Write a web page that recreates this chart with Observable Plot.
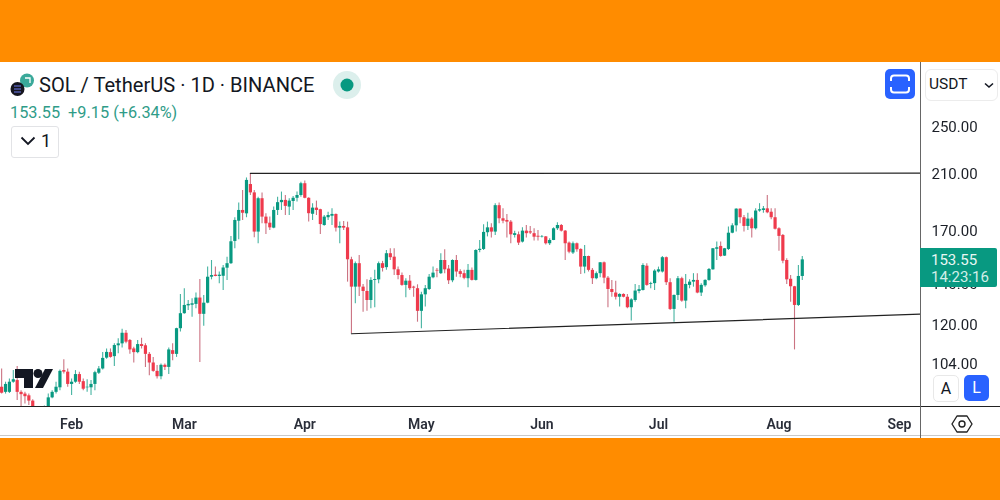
<!DOCTYPE html>
<html><head><meta charset="utf-8">
<script src="https://cdn.jsdelivr.net/npm/d3@7"></script>
<script src="https://cdn.jsdelivr.net/npm/@observablehq/plot@0.6"></script>
<style>
html,body{margin:0;padding:0;background:#fff;overflow:hidden}
body{width:1000px;height:500px;position:relative;font-family:Roboto,sans-serif;color:#131722}
.band{position:absolute;left:0;width:1000px;height:62px;background:#ff8c00;z-index:5}
#chart{position:absolute;left:0;top:62px;width:1000px;height:376px;filter:blur(0.3px)}
.o{position:absolute;white-space:nowrap}
</style></head><body>
<div class="band" style="top:0"></div>
<div class="band" style="top:438px"></div>
<div id="chart"></div>
<div class="o" style="left:0;top:406px;width:1000px;height:1px;background:#222"></div>
<div class="o" style="left:0;top:435px;width:1000px;height:1px;background:#c9c9c9"></div>
<div class="o" style="left:919.5px;top:62px;width:1.5px;height:376px;background:#666"></div>

<svg class="o" style="left:8px;top:72px" width="30" height="26" viewBox="0 0 30 26"><circle cx="19" cy="8.5" r="7" fill="#3aa99a"/><path d="M17 6H22V11" fill="none" stroke="#fff" stroke-width="1.3"/><circle cx="9.5" cy="17" r="7" fill="#15151f"/><path d="M6 14h7M6 17h7M6 20h7" stroke="#6f7cf0" stroke-width="1.2"/></svg>
<div class="o" style="left:39px;top:73px;font-size:20.1px;line-height:24px">SOL / TetherUS · 1D · BINANCE</div>
<svg class="o" style="left:333px;top:71px" width="28" height="28"><circle cx="14" cy="14" r="14" fill="#dcefec"/><circle cx="14" cy="14" r="6.5" fill="#089981"/></svg>
<div class="o" style="left:10px;top:103px;font-size:16.3px;line-height:20px;color:#2f9c88">153.55&nbsp; +9.15 (+6.34%)</div>
<div class="o" style="left:11px;top:126px;width:46px;height:30px;border:1px solid #e2e3e6;border-radius:3px;background:#fff"></div>
<svg class="o" style="left:20px;top:135px" width="16" height="12"><path d="M1.5 2.5L8 9L14.5 2.5" fill="none" stroke="#131722" stroke-width="1.8"/></svg>
<div class="o" style="left:41px;top:130px;font-size:18px;line-height:22px">1</div>

<svg class="o" style="left:885px;top:69px" width="30" height="30"><rect width="30" height="30" rx="5" fill="#2962ff"/><path d="M6 12V9.5Q6 6.5 9 6.5H21Q24 6.5 24 9.5V12M6 18V20.5Q6 23.5 9 23.5H21Q24 23.5 24 20.5V18" fill="none" stroke="#fff" stroke-width="2"/></svg>
<div class="o" style="left:925px;top:69px;width:71px;height:30px;border:1px solid #ececec;border-radius:6px;background:#fff"></div>
<div class="o" style="left:929px;top:75px;font-size:15.5px;line-height:19px">USDT</div>
<svg class="o" style="left:984px;top:82px" width="10" height="7"><path d="M1 1.5L5 5L9 1.5" fill="none" stroke="#131722" stroke-width="1.6"/></svg>

<div class="o" style="left:920px;top:248px;width:77px;height:39px;background:#089981;border-radius:0 2px 2px 0"></div>
<div class="o" style="left:931px;top:251px;font-size:15px;line-height:18px;color:#e8f7f4">153.55</div>
<div class="o" style="left:931px;top:268px;font-size:15px;line-height:18px;color:#d3efe9">14:23:16</div>

<div class="o" style="left:921px;top:370px;width:79px;height:36px;background:#fff"></div>
<div class="o" style="left:933px;top:375px;width:24px;height:25px;border:1px solid #e8e8e8;border-radius:5px;text-align:center;font-size:16px;line-height:25px">A</div>
<div class="o" style="left:964px;top:375px;width:25px;height:26px;background:#2962ff;border-radius:5px;color:#fff;text-align:center;font-size:16px;line-height:26px">L</div>

<svg class="o" style="left:950px;top:414px" width="24" height="20"><path d="M7 2H17L22 10L17 18H7L2 10Z" fill="none" stroke="#222" stroke-width="1.4" stroke-linejoin="round"/><circle cx="12" cy="10" r="3" fill="none" stroke="#222" stroke-width="1.4"/></svg>

<svg class="o" id="logo" style="left:15px;top:369px;z-index:3" width="38" height="20"><path d="M0 0H18V19H9V9H0Z" fill="#131722"/><circle cx="23" cy="4.5" r="4.5" fill="#131722"/><path d="M30 0H38L28 19H20Z" fill="#131722"/></svg>

<script>
const startDay = "2024-01-14";
const opens = [
95.8,94,94,97.6,98.2,94,93.4,92.8,91,88.6,84,87,88.8,92.1,94,95.6,101.9,101.3,96.8,97.6,
100.4,97.8,95.6,95.6,96.8,100.9,102.5,106.7,108.9,107.3,111.7,112.5,117,113.9,110.4,108.9,112.2,111.7,108.2,104.8,
101.6,99.6,103.9,103.1,109.7,108.2,119,125.8,129.5,129.8,130.2,133.3,125.5,130.8,144,145.1,144.4,144.5,148.9,151.4,
164.4,177.2,184.4,182.1,203,196.8,170.2,192.6,179.9,175.9,172.7,184.4,189.8,191.4,186.7,190.6,192.9,194.9,203.6,192.9,
181.8,186,184.9,174.4,179.5,180.5,181.7,172.7,173.8,172.9,153.6,138.8,151.4,138.8,136.6,132.1,142.3,142.6,151.4,149.2,
157.1,155.1,148,144.9,139.7,141.9,138.8,138,126.9,134.9,137.6,143.7,147.7,145.9,153.2,148.4,142.1,153.2,147,145.9,
143.2,147.7,142.3,159,159.6,169.8,172.9,170.2,187.7,178.8,177.7,176.6,168.1,168.5,164,170.8,170.4,169.2,167.6,167,
167.2,163,165,172.3,174.4,170.8,163.4,157.5,163,159.6,149.5,155.5,147.7,143.2,145.9,151.9,143.5,137.6,135.8,133.7,
135.1,133.7,128.6,132.1,136.6,137.1,150,140.2,140.6,146.8,146.8,154.8,141.1,127.8,134.6,143.2,131.8,139.7,141.4,142.3,
135.8,139.5,142.3,148,159.7,161.4,155.7,159.6,169.5,174.2,185.3,179.5,173.8,178.6,172.3,184,184.4,185.5,183.2,179.5,
172.3,168.1,153.2,142.9,139,129.7,144.4];
const highs = [
102.5,97.6,98.8,101.9,103.4,94.6,94,93.4,91.5,89,88,89.4,93.4,94.6,97.6,102.1,106.1,102.5,98.8,101.9,
101.3,98.8,98.5,98.2,101.6,103.4,109,110.4,110.4,112.5,114.6,118.7,118.2,114.3,111.1,113.9,114.9,112.5,109,107,
103.8,104.4,104.4,110.8,112.5,119.2,135.1,138,132.1,132.9,135.8,142.8,134.6,149.5,153.2,149.5,146.8,150.4,155.1,167.5,
179.5,189.5,198.6,208,211,198.6,193.7,196.8,182.2,179.9,186.7,193.7,197.4,194.9,192.6,194.2,197.4,204.8,205.6,193.2,
189.1,190.9,185.2,181,183.2,185.5,182,176.6,177,176.6,155.1,152.3,156.1,140.2,142.6,143.7,147.7,152.3,152.7,159,
160,160,149.5,146.2,143.2,144.9,139.2,140,136.2,139.7,145.5,149.5,148.7,157.1,159.4,150.4,153.6,156.1,148,147.7,
151,149,159.4,165,174.9,176.6,175.5,189.1,189.5,185.5,181.7,177.7,170.8,170.2,172.9,174.4,173.8,172.3,171.2,168.1,
167.5,166,172.9,176.2,175,171.2,164,164,163.4,160,162,155.7,148.7,146.8,152.1,152.3,144.4,142.3,141.9,135.4,
135.4,135.1,132.9,140.2,139.7,151.4,151.4,141.4,148,149.5,155.5,155.2,143.2,134.8,144.4,144,145.5,142.6,145.9,145.9,
140.6,142.6,148.7,160.2,164,164,160.2,173.4,175.5,185.5,185.6,181,182.5,179.5,185.5,189.1,187.2,194.9,185.5,185.5,
172.9,168.7,154.2,144.9,139.2,150.4,155.5];
const lows = [
93.4,93.4,93.6,97.2,91.2,88.9,90,89.5,87.5,80,81,84,88,91.8,93.4,94.6,100.6,95.8,92.9,97.2,
96.8,94.6,94,92.9,94.6,100.4,102.1,106.3,106.7,103.4,108.4,110.8,112.5,108.2,104.8,108.4,110.4,103.1,100,101.3,
98.8,98.5,101.9,100.4,105.7,107,117.5,125.5,127.3,124.2,128.1,105,120.1,130.5,142.6,144.3,140.6,137.1,142.3,151,
160,165.4,177.7,179.5,194.9,166.7,163,175.5,168.7,171.2,172.3,181,184.4,181,181,184.4,190.2,193.7,192.6,176.6,
177.7,181,168.7,174,177.7,174.4,170.2,163,171.2,141.4,116.8,130.5,134.1,126.5,127,128.1,128.6,140.6,146.8,147.7,
153.2,144.9,142.6,139.2,133.4,137.1,133.7,121.9,119,128.9,137.1,143.2,143.7,145.5,145.9,140.2,141.1,144,143.7,142.6,
138.5,142,142,157.7,159,167.2,166.5,168.1,175.5,175.5,166.5,163,166.5,162,163.4,166.5,168.7,164.6,164.6,166.5,
162.2,162,164.9,171.2,170.2,153.2,157.1,156.7,158,145.5,145.9,146.8,140.2,142.6,143.7,140.6,128.6,133.7,132.4,128.9,
133.4,128.1,122.4,131.3,135.4,136.8,139.2,138,137.1,146.2,146.2,139.7,127.3,121.9,132.1,131.3,128.1,138,138.8,135.4,
134.1,138.8,141.9,147.7,153.2,155.1,155.5,159,169.2,170.2,175.5,170.2,171.2,166.5,171.6,183.2,182.5,182.2,178.2,171.6,
158.6,151.4,140.2,131.3,110,129.2,142.3];
const closes = [
93.7,96.8,97.6,98.5,94,93.2,92.5,91,88.6,84,87,88.5,92.1,94,95.8,101.6,101.3,96.8,97.6,100.4,
97.6,95.1,95.8,96.8,101.1,102.5,106.6,109,107,111.8,112.5,117,113.2,110,108.9,112.2,111.4,108.2,104.8,101.6,
99.6,103.9,103.1,110,108.2,119,125.8,129.7,130.2,130.5,133.3,125.5,130.8,144,144.9,144.4,145.1,149,151.4,164.2,
177.7,184.4,182.5,206.1,196.8,170.2,192.6,179.9,175.5,172.9,184.4,189.8,191.4,187.2,190.9,192.9,194.9,203.6,192.9,182.2,
186,184.4,175,179.9,181,181.7,172.7,173.8,172.7,153.6,138.8,151.4,138.8,136.6,132.1,142.3,142.8,151.4,148.8,157.1,
154.8,148,144.9,139.7,141.9,138,138.3,126.9,134.9,138,144,146.2,147.3,153.2,148,142.1,153.2,146.8,145.5,143.4,
147.7,142.3,159,159.7,170,172.9,170.2,187.7,178.8,177.2,176.6,168.5,169.2,163.4,170.8,169.2,169.6,167,167,167.3,
163,165,172.3,174.4,170.8,163,158,163,159.4,149.5,155.5,147.7,143.2,145.9,151.9,143.5,137.6,136.1,133.7,135.1,
133.7,128.6,132.4,136.8,137.5,150.4,139.7,140.6,147.3,148,154.8,141.1,127.8,134.6,143.2,131.8,140.2,141.4,142.3,135.8,
139.7,142.3,148.2,160,160.6,155.5,160,169.5,174.2,185.3,179.5,173.8,178.6,172.3,184,184.9,185.5,182.8,179.5,172,
167.5,152.8,142.6,139,129.7,144.4,153.55];
const yTicks = [250,210,170,140,120,104];
const xTicks = ["2024-02-01","2024-03-01","2024-04-01","2024-05-01","2024-06-01","2024-07-01","2024-08-01","2024-09-01"];
const upperLine = [{date:"2024-03-18",price:211.5},{date:"2024-09-07",price:211.7}];
const lowerLine = [{date:"2024-04-13",price:116.8},{date:"2024-09-07",price:125.6}];
const up = "#089981", down = "#ef3a4c";

const t0 = new Date(startDay + "T00:00:00Z");
const candles = opens.map((o,i)=>({date:d3.utcDay.offset(t0,i),open:o,high:highs[i],low:lows[i],close:closes[i]}));
const rising = candles.filter(d=>d.close>=d.open), falling = candles.filter(d=>d.close<d.open);
const parse = d=>({date:new Date(d.date+"T00:00:00Z"),price:d.price});

const chart = Plot.plot({
  width:1000,height:376,
  marginTop:0,marginBottom:32,marginLeft:0,marginRight:80,
  style:{fontFamily:"Roboto,sans-serif",background:"transparent",overflow:"visible"},
  x:{type:"utc",domain:[new Date(Date.UTC(2024,0,13,17)),new Date(Date.UTC(2024,8,6,10))]},
  y:{type:"log",domain:[89.2,319]},
  marks:[
    Plot.axisY({anchor:"right",ticks:yTicks,tickSize:0,tickPadding:11,dy:-1,label:null,tickFormat:d3.format(".2f"),fontSize:15,fill:"#1b1f27"}),
    Plot.axisX({ticks:xTicks.map(s=>new Date(s+"T00:00:00Z")),tickSize:0,tickPadding:13,label:null,tickFormat:d3.utcFormat("%b"),fontSize:14,fontWeight:600,fill:"#2a2e39"}),
    Plot.ruleX(rising,{x:"date",y1:"low",y2:"high",stroke:up,strokeWidth:1.1,strokeOpacity:.75,clip:true}),
    Plot.ruleX(falling,{x:"date",y1:"low",y2:"high",stroke:"#c25a6c",strokeWidth:1.1,strokeOpacity:.85,clip:true}),
    Plot.ruleX(rising,{x:"date",y1:"open",y2:"close",stroke:up,strokeWidth:3.2,clip:true}),
    Plot.ruleX(falling,{x:"date",y1:"open",y2:"close",stroke:down,strokeWidth:3.2,clip:true}),
    Plot.line(upperLine.map(parse),{x:"date",y:"price",stroke:"#222",strokeWidth:1.2,clip:true}),
    Plot.line(lowerLine.map(parse),{x:"date",y:"price",stroke:"#222",strokeWidth:1.2,clip:true})
  ]
});
document.getElementById("chart").appendChild(chart);
</script>
</body></html>
